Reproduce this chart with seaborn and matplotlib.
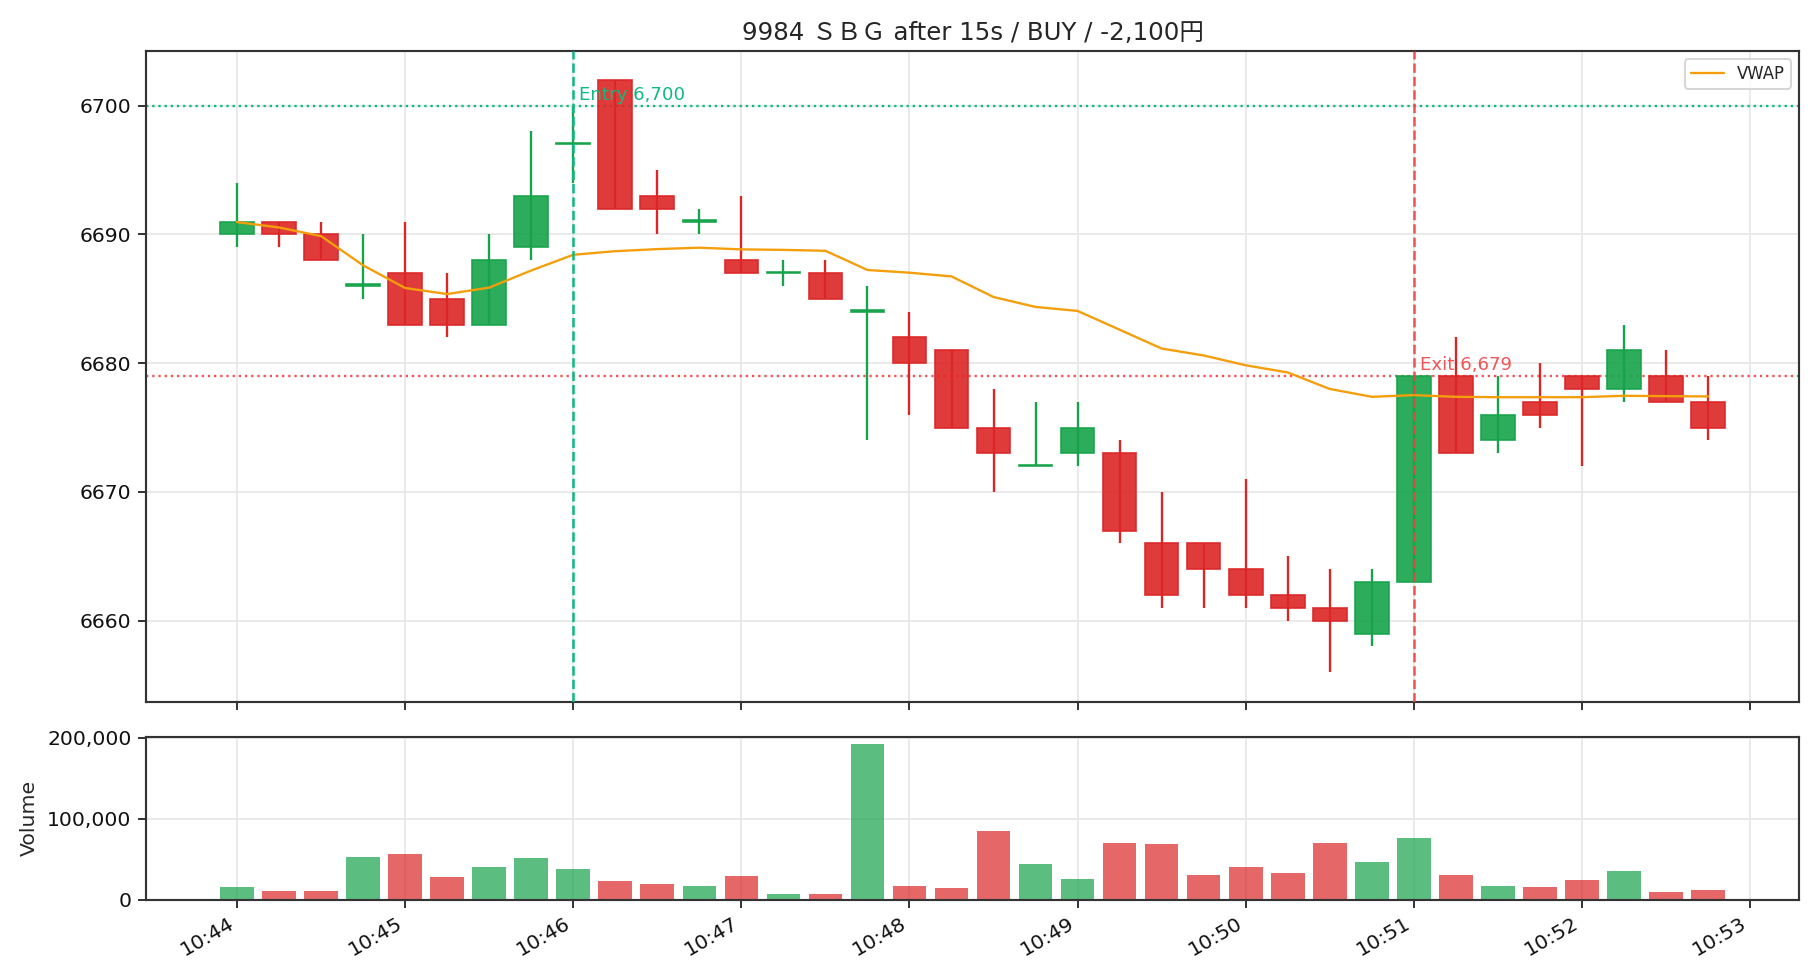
import numpy as np
import pandas as pd
import matplotlib
matplotlib.use("Agg")
import matplotlib.pyplot as plt
import matplotlib.dates as mdates
from matplotlib.ticker import FuncFormatter
import seaborn as sns

# ---------------- data ----------------
times = pd.date_range("2024-01-01 10:44:00", periods=36, freq="15s")
opens = [6690, 6691, 6690, 6686, 6687, 6685, 6683, 6689, 6697, 6702,
         6693, 6691, 6688, 6687, 6687, 6684, 6682, 6681, 6675, 6672,
         6673, 6673, 6666, 6666, 6664, 6662, 6661, 6659, 6663, 6679,
         6674, 6677, 6679, 6678, 6679, 6677]
highs = [6694, 6691, 6691, 6690, 6691, 6687, 6690, 6698, 6700, 6702,
         6695, 6692, 6693, 6688, 6688, 6686, 6684, 6681, 6678, 6677,
         6677, 6674, 6670, 6666, 6671, 6665, 6664, 6664, 6679, 6682,
         6679, 6680, 6679, 6683, 6681, 6679]
lows = [6689, 6689, 6688, 6685, 6683, 6682, 6683, 6688, 6694, 6692,
        6690, 6690, 6687, 6686, 6685, 6674, 6676, 6675, 6670, 6672,
        6672, 6666, 6661, 6661, 6661, 6660, 6656, 6658, 6663, 6673,
        6673, 6675, 6672, 6677, 6677, 6674]
closes = [6691, 6690, 6688, 6686, 6683, 6683, 6688, 6693, 6697, 6692,
          6692, 6691, 6687, 6687, 6685, 6684, 6680, 6675, 6673, 6672,
          6675, 6667, 6662, 6664, 6662, 6661, 6660, 6663, 6679, 6673,
          6676, 6676, 6678, 6681, 6677, 6675]
volumes = [15700, 10700, 10700, 52900, 56600, 28100, 40500, 51700, 38000, 23100,
           19400, 16900, 29300, 7000, 7000, 191700, 16900, 14500, 85100, 44200,
           25600, 70200, 69000, 30600, 40500, 33100, 70200, 46700, 76400, 30600,
           16900, 15700, 24400, 35500, 9500, 12000]
vwap = [6690.96, 6690.54, 6689.87, 6687.6, 6685.84, 6685.37, 6685.87, 6687.2, 6688.42, 6688.7,
        6688.86, 6688.97, 6688.84, 6688.8, 6688.73, 6687.24, 6687.03, 6686.74, 6685.14, 6684.37,
        6684.06, 6682.6, 6681.14, 6680.6, 6679.84, 6679.28, 6678.0, 6677.39, 6677.52, 6677.39,
        6677.36, 6677.36, 6677.36, 6677.47, 6677.44, 6677.42]

title = "9984 ＳＢＧ after 15s / BUY / -2,100円"
entry_time = pd.Timestamp("2024-01-01 10:46:00")
entry_price = 6700
exit_time = pd.Timestamp("2024-01-01 10:51:00")
exit_price = 6679

df = pd.DataFrame({"time": times, "open": opens, "high": highs, "low": lows,
                   "close": closes, "volume": volumes, "vwap": vwap})

# ---------------- style ----------------
sns.set_theme(style="whitegrid")
plt.rcParams["font.family"] = ["DejaVu Sans", "Noto Sans CJK JP"]
plt.rcParams.update({
    "axes.edgecolor": "#333333",
    "axes.linewidth": 1.1,
    "grid.color": "#e8e8e8",
    "grid.linewidth": 0.9,
    "xtick.bottom": True,
    "ytick.left": True,
    "xtick.color": "#333333",
    "ytick.color": "#333333",
    "xtick.labelcolor": "#111111",
    "ytick.labelcolor": "#111111",
    "xtick.major.size": 4,
    "ytick.major.size": 4,
    "xtick.major.width": 1.0,
    "ytick.major.width": 1.0,
})

GREEN = "#16a34a"
RED = "#dc2626"
ENTRY_C = "#10b981"
EXIT_C = "#ef4444"
VWAP_C = "#f59e0b"

fig, (ax, axv) = plt.subplots(2, 1, figsize=(13, 7), dpi=140, sharex=True,
                              gridspec_kw={"height_ratios": [4, 1]})
fig.subplots_adjust(left=0.0802, right=0.9885, top=0.948, bottom=0.0821, hspace=0.086)

x = mdates.date2num(df["time"])
width = 12 / 86400.0
up = df["close"].values >= df["open"].values
colors = np.where(up, GREEN, RED)

# wicks
ax.vlines(x, df["low"], df["high"], colors=colors, linewidth=1.2, zorder=2)
# bodies
bottoms = np.minimum(df["open"].values, df["close"].values)
heights = np.abs(df["close"].values - df["open"].values).astype(float)
heights = np.where(heights == 0, 0.12, heights)
for xi, b, h, c in zip(x, bottoms, heights, colors):
    ax.bar(xi, h, bottom=b, width=width, color=c, alpha=0.9,
           edgecolor=matplotlib.colors.to_rgba(c, 0.55), linewidth=0.9, zorder=3)

# VWAP
sns.lineplot(x=df["time"], y=df["vwap"], ax=ax, color=VWAP_C, linewidth=1.2,
             label="VWAP", zorder=4)

# entry / exit
ax.axvline(entry_time, color=ENTRY_C, linestyle="--", linewidth=1.3, zorder=5)
ax.axhline(entry_price, color=ENTRY_C, linestyle=":", linewidth=1.2, zorder=1)
ax.axvline(exit_time, color=EXIT_C, linestyle="--", linewidth=1.3, alpha=0.9, zorder=5)
ax.axhline(exit_price, color=EXIT_C, linestyle=":", linewidth=1.2, alpha=0.9, zorder=1)
ax.annotate(f"Entry {entry_price:,}", xy=(entry_time, entry_price), xytext=(3, 1),
            textcoords="offset points", color=ENTRY_C, fontsize=9.4, va="bottom", ha="left")
ax.annotate(f"Exit {exit_price:,}", xy=(exit_time, exit_price), xytext=(3, 1),
            textcoords="offset points", color=EXIT_C, alpha=0.9, fontsize=9.4,
            va="bottom", ha="left")

ax.set_title(title, fontsize=12.6, pad=5.5)
ax.set_xlabel("")
ax.set_ylabel("")
ax.set_ylim(6653.7, 6704.25)
ax.ticklabel_format(axis="y", useOffset=False, style="plain")
ax.tick_params(axis="y", labelsize=10.5)
ax.tick_params(axis="x", labelbottom=False)
leg = ax.legend(loc="upper right", fontsize=8.5, frameon=True, framealpha=0.8,
                edgecolor="#cccccc", handlelength=2.0, borderpad=0.35)

# volume
vcolors = np.where(up, GREEN, RED)
axv.bar(x, df["volume"], width=width, color=vcolors, alpha=0.7, linewidth=0)
axv.set_ylim(0, 201000)
axv.set_ylabel("Volume", fontsize=10.5)
axv.yaxis.set_major_formatter(FuncFormatter(lambda v, p: f"{int(v):,}"))
axv.tick_params(axis="y", labelsize=10.5)
axv.tick_params(axis="x", labelsize=10.5)

axv.xaxis.set_major_locator(mdates.MinuteLocator())
axv.xaxis.set_major_formatter(mdates.DateFormatter("%H:%M"))
axv.set_xlim(mdates.date2num(pd.Timestamp("2024-01-01 10:43:27.5")),
             mdates.date2num(pd.Timestamp("2024-01-01 10:53:17.5")))
plt.setp(axv.get_xticklabels(), rotation=30, ha="right")
axv.set_xlabel("")

for a in (ax, axv):
    for s in a.spines.values():
        s.set_visible(True)
        s.set_color("#333333")

fig.savefig("out.png", dpi=140)
